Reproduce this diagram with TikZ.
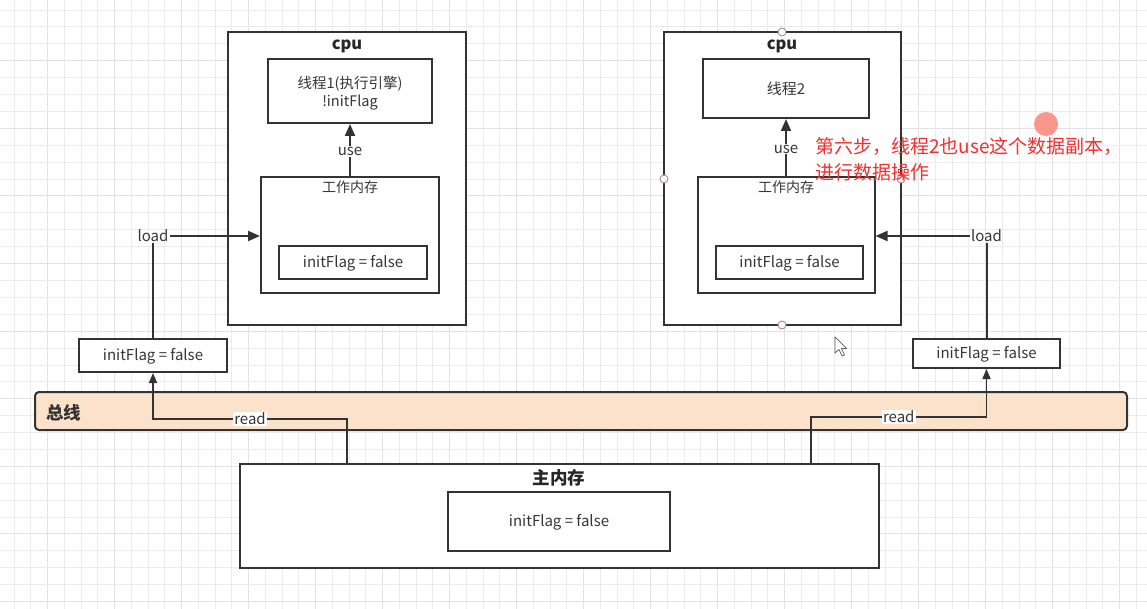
\documentclass[tikz,border=0pt]{standalone}
\usepackage{fontspec}
\setmainfont{Noto Sans CJK SC}
\usetikzlibrary{arrows.meta}
\definecolor{ln}{RGB}{51,51,51}
\definecolor{busfill}{RGB}{252,226,203}
\definecolor{redtxt}{RGB}{242,48,48}
\definecolor{txt}{RGB}{55,55,55}
\definecolor{gridminor}{RGB}{236,236,238}
\definecolor{gridmajor}{RGB}{226,226,229}
\definecolor{handle}{RGB}{175,135,145}
\definecolor{dot}{RGB}{250,150,140}
\begin{document}
\begin{tikzpicture}[x=1pt,y=-1pt,
  box/.style={draw=ln, line width=2pt, fill=white, inner sep=0pt},
  lbl/.style={font=\fontsize{15}{17}\selectfont, text=txt, inner sep=1pt},
  cjklbl/.style={font=\fontsize{14}{16}\selectfont, text=txt, inner sep=1pt},
  ttl/.style={font=\bfseries\fontsize{16.5}{18}\selectfont, text=black!85},
  conn/.style={draw=ln, line width=2pt},
  rconn/.style={draw=ln, line width=1.6pt},
  tip/.style={-{Triangle[width=10pt,length=12pt]}},
  rtip/.style={-{Triangle[width=8pt,length=10pt]}},
  redlbl/.style={font=\fontsize{19}{22}\selectfont, text=redtxt, anchor=west, inner sep=0pt},
]
\useasboundingbox (0,0) rectangle (1147,609);
\fill[white] (0,0) rectangle (1147,609);
% background grid
\foreach \i in {0,...,68} {
  \pgfmathsetmacro{\gx}{14+16.75*\i}
  \pgfmathtruncatemacro{\m}{mod(\i,4)}
  \ifnum\m=2
    \draw[gridmajor, line width=1pt] (\gx,0) -- (\gx,609);
  \else
    \draw[gridminor, line width=0.8pt] (\gx,0) -- (\gx,609);
  \fi
}
\foreach \j in {0,...,35} {
  \pgfmathsetmacro{\gy}{10+16.9*\j}
  \pgfmathtruncatemacro{\m}{mod(\j,4)}
  \ifnum\m=3
    \draw[gridmajor, line width=1pt] (0,\gy) -- (1147,\gy);
  \else
    \draw[gridminor, line width=0.8pt] (0,\gy) -- (1147,\gy);
  \fi
}

% ---------- left CPU ----------
\node[box, minimum width=238pt, minimum height=293pt] (cpuA) at (347,178.5) {};
\node[ttl] (cpuAt) at (347,46) {cpu};
\node[box, minimum width=164pt, minimum height=64pt] (thrA) at (350,91) {};
\node[lbl, align=center, font=\fontsize{14.5}{18}\selectfont] (thrAt) at (350,93) {线程1(执行引擎)\\!initFlag};
\node[box, minimum width=178pt, minimum height=116pt] (wmA) at (350,235) {};
\node[cjklbl] (wmAt) at (350,187) {工作内存};
\node[box, minimum width=148pt, minimum height=33pt] (valA) at (353,262.5) {};
\node[lbl] (valAt) at (353,263) {initFlag = false};
\draw[conn, tip] (wmA.north) -- node[lbl, fill=white, pos=0.47] (useA) {use} (thrA.south);

% ---------- right CPU ----------
\node[box, minimum width=237pt, minimum height=293pt] (cpuB) at (782.5,178.5) {};
\node[ttl] (cpuBt) at (782,46) {cpu};
\node[box, minimum width=166pt, minimum height=59pt] (thrB) at (786,88.5) {};
\node[cjklbl, font=\fontsize{15}{17}\selectfont] (thrBt) at (786,89) {线程2};
\node[box, minimum width=177pt, minimum height=116pt] (wmB) at (786,235) {};
\node[cjklbl] (wmBt) at (786,187) {工作内存};
\node[box, minimum width=147pt, minimum height=33pt] (valB) at (789.5,262.5) {};
\node[lbl] (valBt) at (789.5,263) {initFlag = false};
\draw[conn, tip] (wmB.north) -- node[lbl, fill=white, pos=0.47] (useB) {use} (thrB.south);

% ---------- copies above the bus ----------
\node[box, minimum width=148pt, minimum height=33pt] (boxL) at (153,355.5) {};
\node[lbl] (boxLt) at (153,356) {initFlag = false};
\node[box, minimum width=147pt, minimum height=29pt] (boxR) at (986.5,353.5) {};
\node[lbl] (boxRt) at (986.5,354) {initFlag = false};

% load connectors
\node[lbl] (loadA) at (153,236) {load};
\draw[conn] (boxL.north) -- (loadA.south);
\draw[conn, tip] (loadA.east) -- (wmA.west |- loadA.east);
\node[lbl] (loadB) at (986.5,236) {load};
\draw[conn] (boxR.north) -- (loadB.south);
\draw[conn, tip] (loadB.west) -- (wmB.east |- loadB.west);

% ---------- bus ----------
\node[draw=ln, line width=2pt, fill=busfill, rounded corners=4pt, minimum width=1092pt, minimum height=38pt, inner sep=0pt] (bus) at (581,411) {};
\node[font=\bfseries\fontsize{17.5}{19}\selectfont, text=black!80, anchor=west, inner sep=0pt] (busT) at (46,413) {总线};

% ---------- main memory ----------
\node[box, minimum width=639pt, minimum height=104pt] (mm) at (559.5,516) {};
\node[ttl, font=\bfseries\fontsize{17.5}{19}\selectfont] (mmt) at (559,478) {主内存};
\node[box, minimum width=222pt, minimum height=59pt] (mmv) at (559,521.5) {};
\node[lbl] (mmvt) at (559,522) {initFlag = false};

% read connectors
\coordinate (rAs) at (347,464);
\coordinate (rAc) at (347,419);
\draw[rconn, rtip] (rAs) -- (rAc) -| node[lbl, fill=white, pos=0.25] (readA) {read} (boxL.south);
\coordinate (rBs) at (811,464);
\coordinate (rBc) at (811,417);
\draw[rconn, rtip] (rBs) -- (rBc) -| node[lbl, fill=white, pos=0.25] (readB) {read} (boxR.south);

% ---------- selection handles ----------
\foreach \p in {(782,32),(664,179),(782,325),(901,179)} {
  \draw[handle, fill=white, line width=0.9pt] \p circle (4pt);
}

% ---------- annotation ----------
\node[redlbl] (note1) at (815,146) {第六步，线程2也use这个数据副本，};
\node[redlbl] (note2) at (815,172) {进行数据操作};
\fill[dot] (1046,124) circle (12pt);

% ---------- mouse cursor ----------
\draw[gray!70!black, fill=white, line width=0.7pt, line join=round]
  (835,337) -- (835,353) -- (839,349.5) -- (842,356) -- (844.5,355) -- (841.5,348.5) -- (846.5,348.5) -- cycle;
\end{tikzpicture}
\end{document}
